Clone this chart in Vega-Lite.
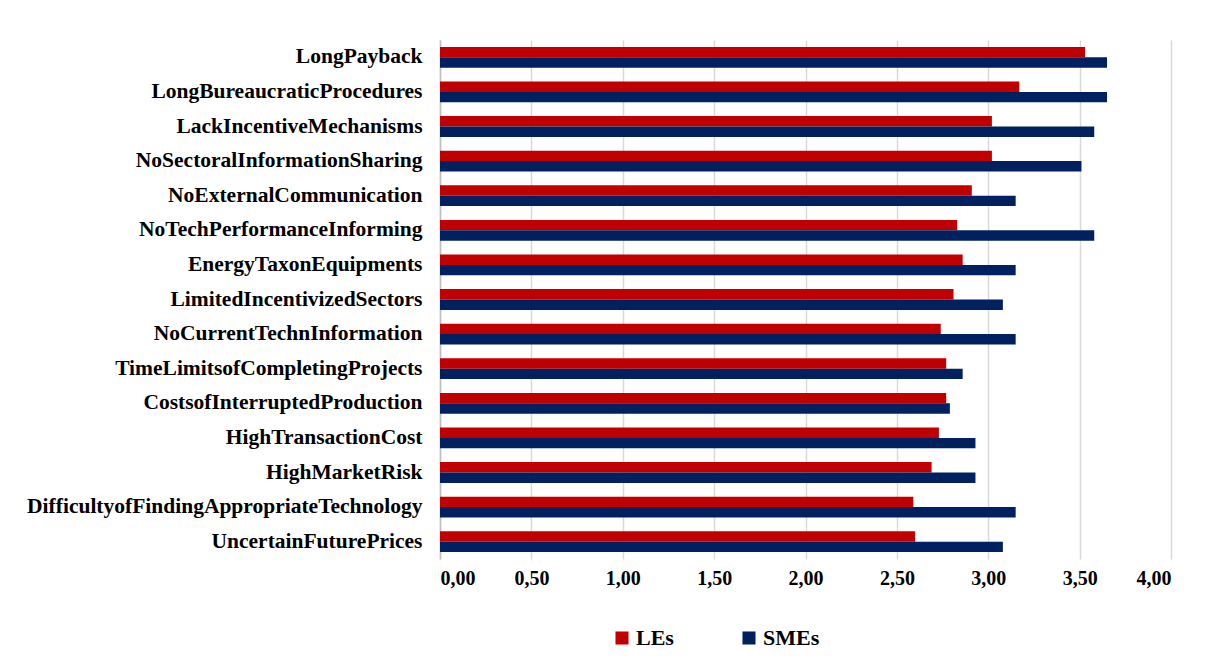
{
  "$schema": "https://vega.github.io/schema/vega-lite/v6.json",
  "width": 731,
  "height": 519,
  "autosize": {"type": "none"},
  "padding": {"left": 440, "top": 40, "right": 53, "bottom": 107},
  "background": "white",
  "config": {
    "view": {"stroke": null},
    "font": "Liberation Serif"
  },
  "data": {
    "values": [
      {"barrier": "LongPayback", "group": "LEs", "score": 3.53},
      {"barrier": "LongPayback", "group": "SMEs", "score": 3.65},
      {"barrier": "LongBureaucraticProcedures", "group": "LEs", "score": 3.17},
      {"barrier": "LongBureaucraticProcedures", "group": "SMEs", "score": 3.65},
      {"barrier": "LackIncentiveMechanisms", "group": "LEs", "score": 3.02},
      {"barrier": "LackIncentiveMechanisms", "group": "SMEs", "score": 3.58},
      {"barrier": "NoSectoralInformationSharing", "group": "LEs", "score": 3.02},
      {"barrier": "NoSectoralInformationSharing", "group": "SMEs", "score": 3.51},
      {"barrier": "NoExternalCommunication", "group": "LEs", "score": 2.91},
      {"barrier": "NoExternalCommunication", "group": "SMEs", "score": 3.15},
      {"barrier": "NoTechPerformanceInforming", "group": "LEs", "score": 2.83},
      {"barrier": "NoTechPerformanceInforming", "group": "SMEs", "score": 3.58},
      {"barrier": "EnergyTaxonEquipments", "group": "LEs", "score": 2.86},
      {"barrier": "EnergyTaxonEquipments", "group": "SMEs", "score": 3.15},
      {"barrier": "LimitedIncentivizedSectors", "group": "LEs", "score": 2.81},
      {"barrier": "LimitedIncentivizedSectors", "group": "SMEs", "score": 3.08},
      {"barrier": "NoCurrentTechnInformation", "group": "LEs", "score": 2.74},
      {"barrier": "NoCurrentTechnInformation", "group": "SMEs", "score": 3.15},
      {"barrier": "TimeLimitsofCompletingProjects", "group": "LEs", "score": 2.77},
      {"barrier": "TimeLimitsofCompletingProjects", "group": "SMEs", "score": 2.86},
      {"barrier": "CostsofInterruptedProduction", "group": "LEs", "score": 2.77},
      {"barrier": "CostsofInterruptedProduction", "group": "SMEs", "score": 2.79},
      {"barrier": "HighTransactionCost", "group": "LEs", "score": 2.73},
      {"barrier": "HighTransactionCost", "group": "SMEs", "score": 2.93},
      {"barrier": "HighMarketRisk", "group": "LEs", "score": 2.69},
      {"barrier": "HighMarketRisk", "group": "SMEs", "score": 2.93},
      {"barrier": "DifficultyofFindingAppropriateTechnology", "group": "LEs", "score": 2.59},
      {"barrier": "DifficultyofFindingAppropriateTechnology", "group": "SMEs", "score": 3.15},
      {"barrier": "UncertainFuturePrices", "group": "LEs", "score": 2.6},
      {"barrier": "UncertainFuturePrices", "group": "SMEs", "score": 3.08}
    ]
  },
  "mark": {"type": "bar"},
  "encoding": {
    "y": {
      "field": "barrier",
      "type": "nominal",
      "sort": null,
      "scale": {"paddingInner": 0.4, "paddingOuter": 0.2},
      "axis": {
        "title": null,
        "ticks": false,
        "grid": false,
        "domainColor": "#bfbfbf",
        "domainWidth": 1.5,
        "labelPadding": 18,
        "labelFont": "Liberation Serif",
        "labelFontWeight": "bold",
        "labelFontSize": 21.5,
        "labelColor": "#000000",
        "labelLimit": 500
      }
    },
    "yOffset": {"field": "group", "sort": ["LEs", "SMEs"]},
    "x": {
      "field": "score",
      "type": "quantitative",
      "scale": {"domain": [0, 4], "nice": false},
      "axis": {
        "title": null,
        "values": [0, 0.5, 1, 1.5, 2, 2.5, 3, 3.5, 4],
        "labelExpr": "replace(format(datum.value, '.2f'), '.', ',')",
        "domain": false,
        "ticks": false,
        "grid": true,
        "gridColor": "#d9d9d9",
        "gridWidth": 1.5,
        "labelPadding": 9,
        "labelFont": "Liberation Serif",
        "labelFontWeight": "bold",
        "labelFontSize": 20,
        "labelColor": "#000000"
      }
    },
    "color": {
      "field": "group",
      "type": "nominal",
      "scale": {"domain": ["LEs", "SMEs"], "range": ["#C00000", "#002060"]},
      "legend": {
        "title": null,
        "orient": "none",
        "legendX": 171,
        "legendY": 587,
        "direction": "horizontal",
        "symbolType": "square",
        "symbolSize": 170,
        "symbolStrokeWidth": 0,
        "symbolOpacity": 1,
        "labelFont": "Liberation Serif",
        "labelFontWeight": "bold",
        "labelFontSize": 22,
        "labelColor": "#000000",
        "labelOffset": 3,
        "columnPadding": 64
      }
    }
  }
}
